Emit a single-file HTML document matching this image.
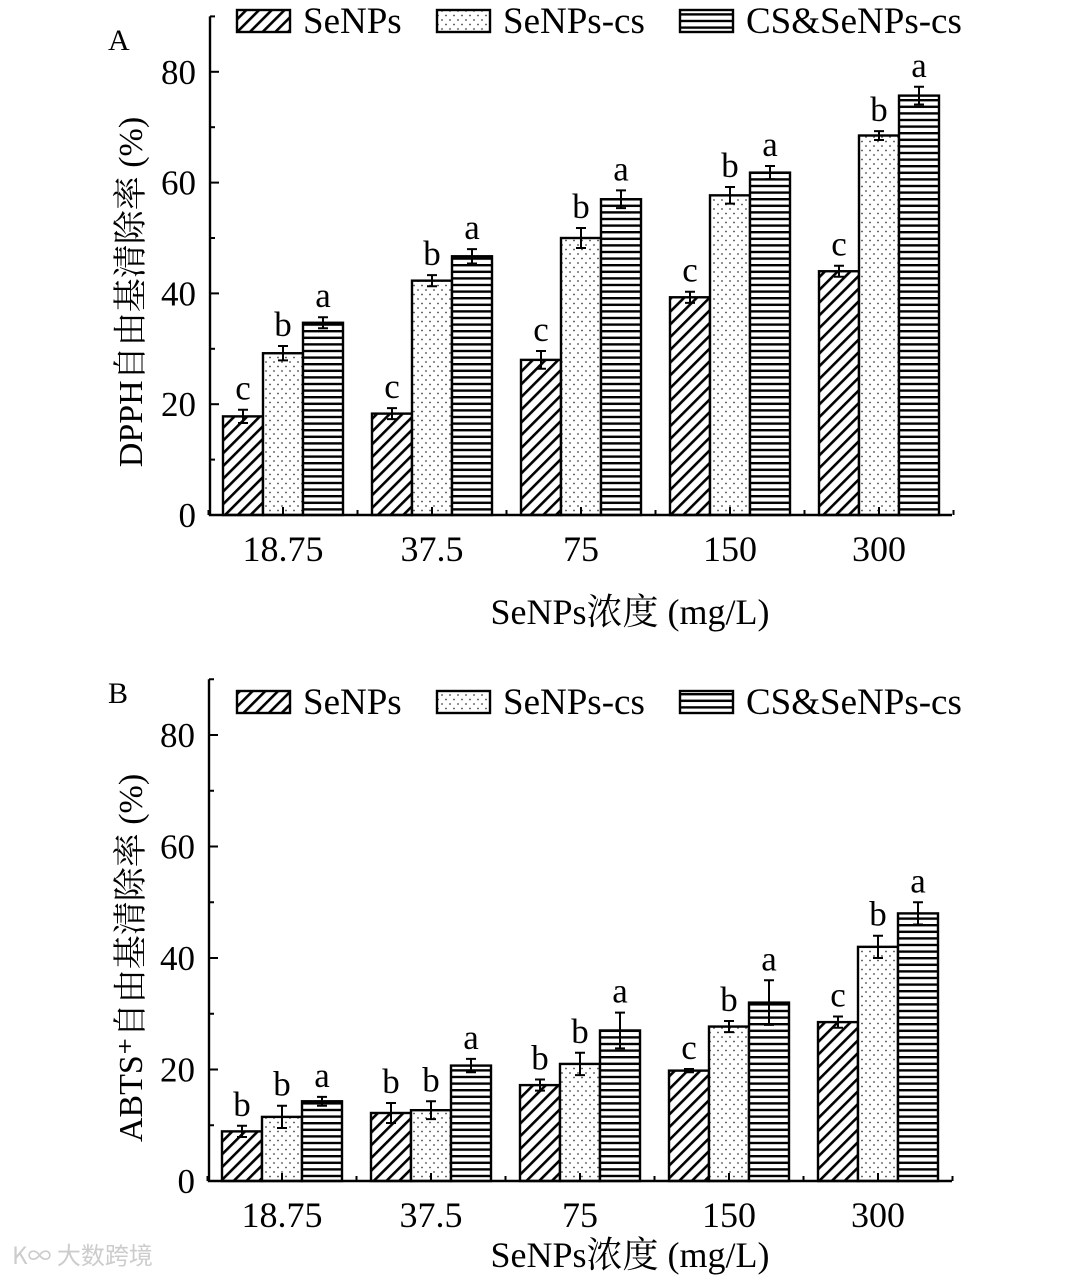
<!DOCTYPE html>
<html><head><meta charset="utf-8"><style>
body{margin:0;background:#fff}
svg text{font-family:"Liberation Serif","Noto Serif CJK SC",serif;fill:#000}
</style></head><body>
<svg id="c" width="1080" height="1278" xmlns="http://www.w3.org/2000/svg">
<defs>
<pattern id="hatch" patternUnits="userSpaceOnUse" width="9" height="9" patternTransform="rotate(45)"><rect width="9" height="9" fill="#fff"/><rect x="0" y="0" width="2.6" height="9" fill="#000"/></pattern>
<pattern id="dots" patternUnits="userSpaceOnUse" width="8" height="9"><rect width="8" height="9" fill="#fff"/><circle cx="2" cy="2" r="0.9" fill="#444"/><circle cx="6" cy="6.5" r="0.9" fill="#444"/></pattern>
<pattern id="hlines" patternUnits="userSpaceOnUse" width="10" height="6.6"><rect width="10" height="6.6" fill="#fff"/><rect y="0" width="10" height="2.4" fill="#000"/></pattern>
</defs>
</svg>
<script>
const categories=["18.75","37.5","75","150","300"];
const seriesNames=["SeNPs","SeNPs-cs","CS&SeNPs-cs"];
const aSeNPs=[17.8,18.3,28.0,39.3,44.0];
const aSeNPsCs=[29.2,42.3,50.0,57.7,68.5];
const aCS=[34.7,46.7,57.0,61.8,75.7];
const aErrSeNPs=[1.2,1.0,1.6,1.0,1.0];
const aErrSeNPsCs=[1.3,1.0,1.8,1.5,0.8];
const aErrCS=[1.0,1.3,1.6,1.2,1.6];
const aLetters=[["c","b","a"],["c","b","a"],["c","b","a"],["c","b","a"],["c","b","a"]];
const bSeNPs=[8.9,12.2,17.2,19.8,28.5];
const bSeNPsCs=[11.5,12.7,21.0,27.7,42.0];
const bCS=[14.3,20.7,27.0,32.0,48.0];
const bErrSeNPs=[1.0,1.8,1.0,0.3,1.0];
const bErrSeNPsCs=[2.0,1.6,2.0,1.0,2.0];
const bErrCS=[0.8,1.2,3.2,4.0,2.0];
const bLetters=[["b","b","a"],["b","b","a"],["b","b","a"],["c","b","a"],["c","b","a"]];
const yTicks=[0,20,40,60,80];
const yMax=90;

const svg=document.getElementById('c');
const NS="http://www.w3.org/2000/svg";
function mk(tag,attrs,parent){const e=document.createElementNS(NS,tag);for(const k in attrs)e.setAttribute(k,attrs[k]);(parent||svg).appendChild(e);return e;}
const fills=["url(#hatch)","url(#dots)","url(#hlines)"];

function panel(p){
  const g=mk('g',{});
  
  
  const x0=p.axisX, x1=952, y0=p.zeroY, pxPer=p.pxPer;
  const yS=v=>y0-v*pxPer;
  const step=149, first=p.firstCenter, bw=40;
  const xC=i=>first+i*step;
  const vals=[p.s1,p.s2,p.s3], errs=[p.e1,p.e2,p.e3];
  for(let s=0;s<3;s++){
    for(let i=0;i<categories.length;i++){
      const cx=xC(i)+(s-1)*bw;
      const v=vals[s][i], e=errs[s][i];
      const r=mk('rect',{x:cx-bw/2,y:yS(v),width:bw,height:y0-yS(v),fill:fills[s],stroke:'#000','stroke-width':2.4},g);
      
      
      const eb=mk('path',{d:`M${cx-5} ${yS(v+e)}H${cx+5}M${cx} ${yS(v+e)}V${yS(v-e)}M${cx-5} ${yS(v-e)}H${cx+5}`,stroke:'#000','stroke-width':2,fill:'none'},g);
      
      
      const t=mk('text',{x:cx,y:yS(v+e)-10,'text-anchor':'middle','font-size':35},g);
      t.textContent=p.letters[i][s];
      
      
    }
  }
  const ax=mk('path',{d:`M${x0} ${yS(yMax)}V${y0}H${x1}`,stroke:'#000','stroke-width':2.4,fill:'none'},g);
  
  
  yTicks.forEach(v=>{
    mk('path',{d:`M${x0} ${yS(v)}h9`,stroke:'#000','stroke-width':2},g);
    mk('path',{d:`M${x0} ${yS(v+10)}h5`,stroke:'#000','stroke-width':2},g);
    const t=mk('text',{x:x0-14,y:yS(v)+12,'text-anchor':'end','font-size':35},g);
    t.textContent=v;
    
    
  });
  categories.forEach((c,i)=>{
    mk('path',{d:`M${xC(i)} ${y0}v-8M${xC(i)+step/2} ${y0}v-5`,stroke:'#000','stroke-width':2},g);
    const t=mk('text',{x:xC(i),y:y0+46,'text-anchor':'middle','font-size':36},g);
    t.textContent=c;
    
    
  });
  mk('path',{d:`M${xC(0)-step/2} ${y0}v-5`,stroke:'#000','stroke-width':2},g);
  const lx=[237,437,680];
  seriesNames.forEach((n,s)=>{
    const r=mk('rect',{x:lx[s],y:p.legY,width:53,height:22,fill:fills[s],stroke:'#000','stroke-width':2.4},g);
    
    
    const t=mk('text',{x:lx[s]+66,y:p.legY+23,'font-size':37},g);
    t.textContent=n;
    
    
  });
  const L=mk('text',{x:108,y:p.letterY,'font-size':30},g);L.textContent=p.tag;
  
  
  const yt=mk('text',{x:0,y:0,'text-anchor':'middle','font-size':34,transform:`translate(142 ${p.yTitleY}) rotate(-90)`},g);
  yt.textContent=p.yTitle;
  
  
  const xt=mk('text',{x:630,y:p.xTitleY,'text-anchor':'middle','font-size':36},g);
  xt.textContent="SeNPs浓度 (mg/L)";
  
  
}
panel({name:'panel-a-dpph',tag:'A',axisX:210,zeroY:515,pxPer:5.54,firstCenter:283,s1:aSeNPs,s2:aSeNPsCs,s3:aCS,e1:aErrSeNPs,e2:aErrSeNPsCs,e3:aErrCS,letters:aLetters,legY:10,letterY:50,yTitle:"DPPH自由基清除率 (%)",yTitleY:292,xTitleY:624});
panel({name:'panel-b-abts',tag:'B',axisX:209,zeroY:1181,pxPer:5.575,firstCenter:282,s1:bSeNPs,s2:bSeNPsCs,s3:bCS,e1:bErrSeNPs,e2:bErrSeNPsCs,e3:bErrCS,letters:bLetters,legY:691,letterY:703,yTitle:"ABTS⁺自由基清除率 (%)",yTitleY:958,xTitleY:1267});
const wm=mk('text',{x:12,y:1264,'font-size':24,fill:'#ccc',style:'fill:#ccc;font-family:"Noto Sans CJK SC",sans-serif'});
wm.textContent="K∞ 大数跨境";


</script>
</body></html>
